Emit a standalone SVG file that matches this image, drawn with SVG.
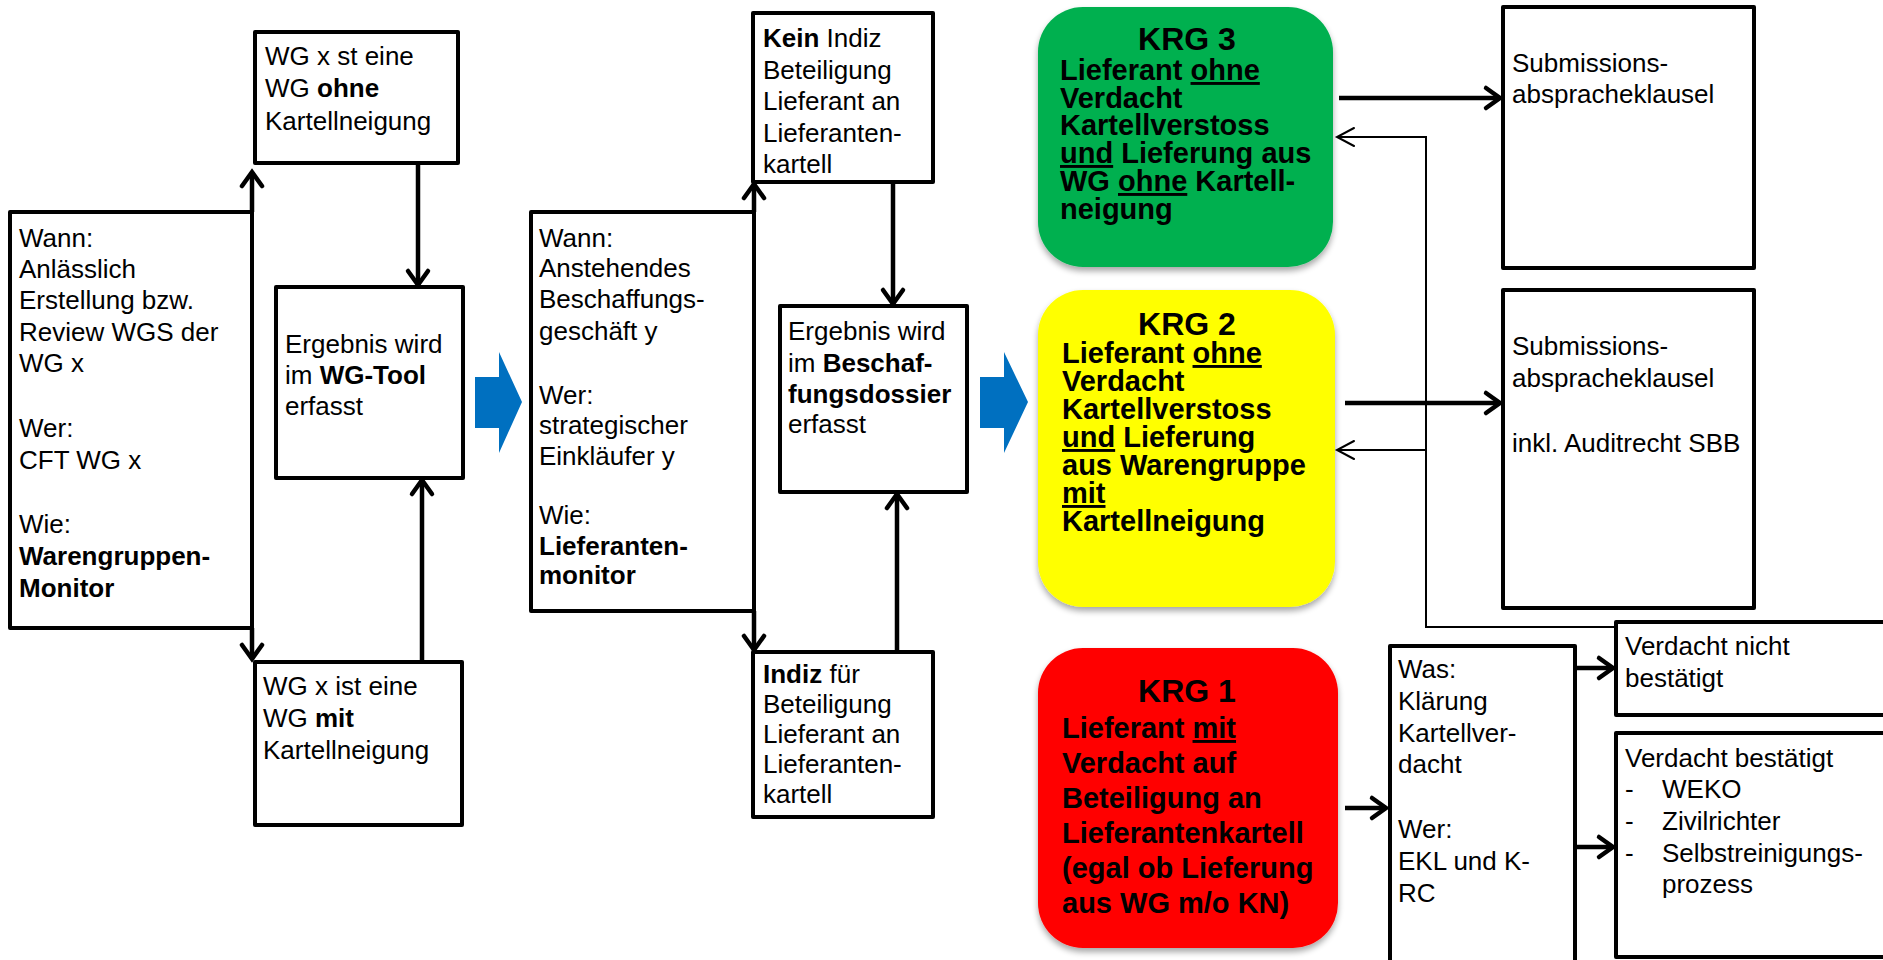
<svg xmlns="http://www.w3.org/2000/svg" width="1883" height="960" viewBox="0 0 1883 960">
<style>
.box{fill:#fff;stroke:#000;stroke-width:4;stroke-linejoin:round}
.t{font-family:"Liberation Sans",Arial,sans-serif;font-size:26px;fill:#000}
.b{font-weight:bold}
.k{font-family:"Liberation Sans",Arial,sans-serif;font-size:29px;font-weight:bold;fill:#000}
.kt{font-size:32px;text-anchor:middle}
.u{text-decoration:underline}
.thick{stroke:#000;stroke-width:4.5;fill:none;marker-end:url(#ah)}
.thin{stroke:#000;stroke-width:2;fill:none}
.thinA{marker-end:url(#ahs)}
.chev{fill:#0070C0}
.krg{filter:url(#sh)}
</style>
<defs>
<marker id="ah" markerUnits="userSpaceOnUse" orient="auto" overflow="visible" markerWidth="1" markerHeight="1" refX="0" refY="0">
<path d="M-14,-10 L0,0 L-14,10" fill="none" stroke="#000" stroke-width="4.5" stroke-linecap="round" stroke-linejoin="miter"/>
</marker>
<marker id="ahs" markerUnits="userSpaceOnUse" orient="auto" overflow="visible" markerWidth="1" markerHeight="1" refX="0" refY="0">
<path d="M-17,-9 L0,0 L-17,9" fill="none" stroke="#000" stroke-width="2" stroke-linecap="round"/>
</marker>
<filter id="sh" x="-10%" y="-10%" width="120%" height="125%">
<feGaussianBlur in="SourceAlpha" stdDeviation="3"/>
<feOffset dx="0" dy="4" result="o"/>
<feComponentTransfer><feFuncA type="linear" slope="0.35"/></feComponentTransfer>
<feMerge><feMergeNode/><feMergeNode in="SourceGraphic"/></feMerge>
</filter>
</defs>

<g id="n_wann1">
<rect class="box" x="10" y="212" width="242" height="416"/>
<text class="t"><tspan x="19" y="247">Wann:</tspan><tspan x="19" y="278">Anlässlich</tspan><tspan x="19" y="309">Erstellung bzw.</tspan><tspan x="19" y="341">Review WGS der</tspan><tspan x="19" y="372">WG x</tspan><tspan x="19" y="437">Wer:</tspan><tspan x="19" y="469">CFT WG x</tspan><tspan x="19" y="533">Wie:</tspan><tspan x="19" y="565" class="b">Warengruppen-</tspan><tspan x="19" y="597" class="b">Monitor</tspan></text>
</g>

<g id="n_ohne">
<rect class="box" x="255" y="32" width="203" height="131"/>
<text class="t"><tspan x="265" y="65">WG x st eine</tspan><tspan x="265" y="97">WG <tspan class="b">ohne</tspan></tspan><tspan x="265" y="130">Kartellneigung</tspan></text>
</g>

<g id="n_tool">
<rect class="box" x="276" y="287" width="187" height="191"/>
<text class="t"><tspan x="285" y="353">Ergebnis wird</tspan><tspan x="285" y="384">im <tspan class="b">WG-Tool</tspan></tspan><tspan x="285" y="415">erfasst</tspan></text>
</g>

<g id="n_mit">
<rect class="box" x="255" y="662" width="207" height="163"/>
<text class="t"><tspan x="263" y="695">WG x ist eine</tspan><tspan x="263" y="727">WG <tspan class="b">mit</tspan></tspan><tspan x="263" y="759">Kartellneigung</tspan></text>
</g>

<g id="chevron1">
<polygon class="chev" points="475,377 499,377 499,352 522,402 499,453 499,428 475,428"/>
</g>

<g id="n_wann2">
<rect class="box" x="531" y="212" width="223" height="399"/>
<text class="t"><tspan x="539" y="247">Wann:</tspan><tspan x="539" y="277">Anstehendes</tspan><tspan x="539" y="308">Beschaffungs-</tspan><tspan x="539" y="340">geschäft y</tspan><tspan x="539" y="404">Wer:</tspan><tspan x="539" y="434">strategischer</tspan><tspan x="539" y="465">Einkläufer y</tspan><tspan x="539" y="524">Wie:</tspan><tspan x="539" y="555" class="b">Lieferanten-</tspan><tspan x="539" y="584" class="b">monitor</tspan></text>
</g>

<g id="n_kein">
<rect class="box" x="753" y="13" width="180" height="169"/>
<text class="t"><tspan x="763" y="47"><tspan class="b">Kein</tspan> Indiz</tspan><tspan x="763" y="79">Beteiligung</tspan><tspan x="763" y="110">Lieferant an</tspan><tspan x="763" y="142">Lieferanten-</tspan><tspan x="763" y="173">kartell</tspan></text>
</g>

<g id="n_dossier">
<rect class="box" x="780" y="306" width="187" height="186"/>
<text class="t"><tspan x="788" y="340">Ergebnis wird</tspan><tspan x="788" y="372">im <tspan class="b">Beschaf-</tspan></tspan><tspan x="788" y="403" class="b">fungsdossier</tspan><tspan x="788" y="433">erfasst</tspan></text>
</g>

<g id="n_indiz">
<rect class="box" x="753" y="652" width="180" height="165"/>
<text class="t"><tspan x="763" y="683"><tspan class="b">Indiz</tspan> für</tspan><tspan x="763" y="713">Beteiligung</tspan><tspan x="763" y="743">Lieferant an</tspan><tspan x="763" y="773">Lieferanten-</tspan><tspan x="763" y="803">kartell</tspan></text>
</g>

<g id="chevron2">
<polygon class="chev" points="980,377 1004,377 1004,352 1028,402 1004,453 1004,428 980,428"/>
</g>

<g id="n_krg3">
<rect class="krg" x="1038" y="7" width="295" height="260" rx="45" fill="#00B050"/>
<text class="k kt" x="1187" y="50">KRG 3</text>
<text class="k"><tspan x="1060" y="80">Lieferant <tspan class="u">ohne</tspan></tspan><tspan x="1060" y="108">Verdacht</tspan><tspan x="1060" y="135">Kartellverstoss</tspan><tspan x="1060" y="163"><tspan class="u">und</tspan> Lieferung aus</tspan><tspan x="1060" y="191">WG <tspan class="u">ohne</tspan> Kartell-</tspan><tspan x="1060" y="219">neigung</tspan></text>
</g>

<g id="n_krg2">
<rect class="krg" x="1038" y="290" width="297" height="317" rx="45" fill="#FFFF00"/>
<text class="k kt" x="1187" y="335">KRG 2</text>
<text class="k"><tspan x="1062" y="363">Lieferant <tspan class="u">ohne</tspan></tspan><tspan x="1062" y="391">Verdacht</tspan><tspan x="1062" y="419">Kartellverstoss</tspan><tspan x="1062" y="447"><tspan class="u">und</tspan> Lieferung</tspan><tspan x="1062" y="475">aus Warengruppe</tspan><tspan x="1062" y="503" class="u">mit</tspan><tspan x="1062" y="531">Kartellneigung</tspan></text>
</g>

<g id="n_krg1">
<rect class="krg" x="1038" y="648" width="300" height="300" rx="45" fill="#FF0000"/>
<text class="k kt" x="1187" y="702">KRG 1</text>
<text class="k"><tspan x="1062" y="738">Lieferant <tspan class="u">mit</tspan></tspan><tspan x="1062" y="773">Verdacht auf</tspan><tspan x="1062" y="808">Beteiligung an</tspan><tspan x="1062" y="843">Lieferantenkartell</tspan><tspan x="1062" y="878">(egal ob Lieferung</tspan><tspan x="1062" y="913">aus WG m/o KN)</tspan></text>
</g>

<g id="n_sub1">
<rect class="box" x="1503" y="7" width="251" height="261"/>
<text class="t"><tspan x="1512" y="72">Submissions-</tspan><tspan x="1512" y="103">abspracheklausel</tspan></text>
</g>

<g id="n_sub2">
<rect class="box" x="1503" y="290" width="251" height="318"/>
<text class="t"><tspan x="1512" y="355">Submissions-</tspan><tspan x="1512" y="387">abspracheklausel</tspan><tspan x="1512" y="452">inkl. Auditrecht SBB</tspan></text>
</g>

<g id="n_was">
<rect class="box" x="1390" y="646" width="185" height="340"/>
<text class="t"><tspan x="1398" y="678">Was:</tspan><tspan x="1398" y="710">Klärung</tspan><tspan x="1398" y="742">Kartellver-</tspan><tspan x="1398" y="773">dacht</tspan><tspan x="1398" y="838">Wer:</tspan><tspan x="1398" y="870">EKL und K-</tspan><tspan x="1398" y="902">RC</tspan></text>
</g>

<g id="n_nicht">
<rect class="box" x="1616" y="622" width="300" height="93"/>
<text class="t"><tspan x="1625" y="655">Verdacht nicht</tspan><tspan x="1625" y="687">bestätigt</tspan></text>
</g>

<g id="n_bestaetigt">
<rect class="box" x="1616" y="733" width="300" height="224"/>
<text class="t"><tspan x="1625" y="767">Verdacht bestätigt</tspan><tspan x="1625" y="798">-</tspan><tspan x="1662" y="798">WEKO</tspan><tspan x="1625" y="830">-</tspan><tspan x="1662" y="830">Zivilrichter</tspan><tspan x="1625" y="862">-</tspan><tspan x="1662" y="862">Selbstreinigungs-</tspan><tspan x="1662" y="893">prozess</tspan></text>
</g>

<g id="connectors">
<line class="thick" x1="252" y1="212" x2="252" y2="172"/>
<line class="thick" x1="252" y1="628" x2="252" y2="659"/>
<line class="thick" x1="418" y1="165" x2="418" y2="285"/>
<line class="thick" x1="422" y1="662" x2="422" y2="480"/>
<line class="thick" x1="754" y1="212" x2="754" y2="184"/>
<line class="thick" x1="754" y1="611" x2="754" y2="650"/>
<line class="thick" x1="893" y1="182" x2="893" y2="304"/>
<line class="thick" x1="897" y1="652" x2="897" y2="494"/>
<line class="thick" x1="1339" y1="98" x2="1500" y2="98"/>
<line class="thick" x1="1345" y1="403" x2="1500" y2="403"/>
<line class="thick" x1="1345" y1="808" x2="1386" y2="808"/>
<line class="thick" x1="1575" y1="668" x2="1613" y2="668"/>
<line class="thick" x1="1575" y1="847" x2="1613" y2="847"/>
<path class="thin thinA" d="M1614,627 H1426 V137 H1337"/>
<path class="thin thinA" d="M1426,450 H1337"/>
</g>
</svg>
